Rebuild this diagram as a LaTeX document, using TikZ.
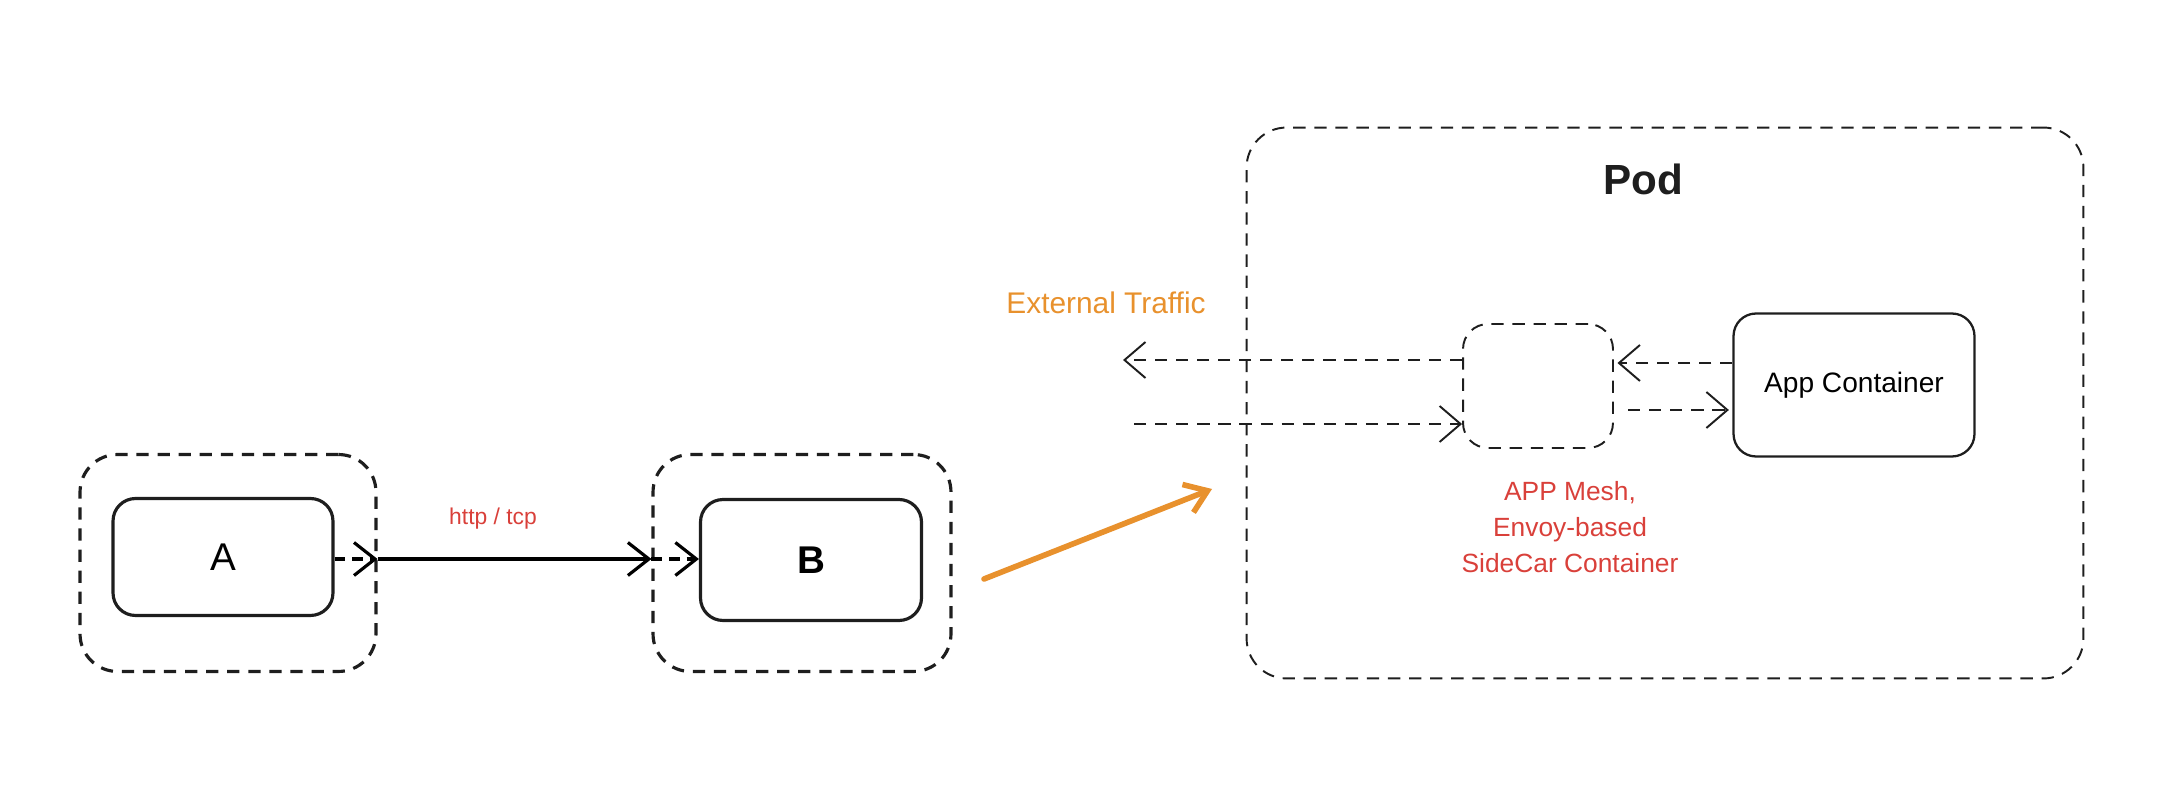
\documentclass[tikz,border=0pt]{standalone}
\usepackage{fontspec}
\setmainfont{Liberation Sans}
\usetikzlibrary{arrows.meta,calc}
\definecolor{exorange}{RGB}{232,145,45}
\definecolor{exred}{RGB}{217,64,58}
\definecolor{exink}{RGB}{30,30,30}
\tikzset{
  solidbox/.style={draw=exink,line width=1.8pt,rounded corners=0.45cm,inner sep=0pt},
  groupbox/.style={draw=exink,line width=1.8pt,dash pattern=on 7pt off 5pt,rounded corners=0.75cm,inner sep=0pt},
  podbox/.style={draw=exink,line width=1.1pt,dash pattern=on 7pt off 5pt,rounded corners=0.8cm,inner sep=0pt},
  sidebox/.style={draw=exink,line width=1.1pt,dash pattern=on 7pt off 5pt,rounded corners=0.5cm,inner sep=0pt},
  barb/.style={-{Straight Barb[length=0.42cm,width=0.72cm,line width=1.1pt]}},
  bigbarb/.style={-{Straight Barb[length=0.42cm,width=0.66cm,line width=1.8pt]}},
  thinflow/.style={draw=exink,line width=1.1pt,dash pattern=on 7pt off 5pt,barb},
  lbl/.style={inner sep=0pt,font=\fontsize{16}{19}\selectfont,text=exink},
}
\begin{document}
\begin{tikzpicture}[x=0.02cm,y=-0.02cm]
\useasboundingbox (0,0) rectangle (2160,786);
% left group
\node[groupbox,minimum width=5.92cm,minimum height=4.34cm] (Aout) at (228,563) {};
\node[solidbox,minimum width=4.4cm,minimum height=2.34cm,font=\fontsize{22}{26}\selectfont] (Ain) at (223,557) {A};
\node[groupbox,minimum width=5.96cm,minimum height=4.34cm] (Bout) at (802,563) {};
\node[solidbox,minimum width=4.42cm,minimum height=2.42cm,font=\fontsize{22}{26}\selectfont\bfseries] (Bin) at (811,560) {B};
\coordinate (lineY) at (0,559);
\draw[line width=1.8pt,dash pattern=on 6pt off 4pt,bigbarb] (Ain.east |- lineY) -- (Aout.east |- lineY);
\draw[line width=1.8pt,bigbarb] (Aout.east |- lineY) -- (Bout.west |- lineY);
\draw[line width=1.8pt,dash pattern=on 6pt off 4pt,bigbarb] (Bout.west |- lineY) -- (Bin.west |- lineY);
\node[lbl,text=exred,font=\fontsize{13}{16}\selectfont] (proto) at (493,519) {http / tcp};
% orange arrow
\coordinate (o1) at (984,579);
\coordinate (o2) at (1212,489);
\draw[exorange,line width=3.2pt,-{Straight Barb[length=0.42cm,width=0.6cm,line width=3.2pt]},line cap=round] (o1) -- (o2);
\node[lbl,text=exorange,font=\fontsize{17}{20}\selectfont] (ext) at (1106,303) {External Traffic};
% pod
\node[podbox,minimum width=16.74cm,minimum height=11.02cm] (pod) at (1665,403) {};
\node[lbl,font=\fontsize{24}{28}\selectfont\bfseries] (podlbl) at (1643,179) {Pod};
\node[sidebox,minimum width=3.0cm,minimum height=2.48cm] (sc) at (1538,386) {};
\node[solidbox,line width=1.3pt,minimum width=4.82cm,minimum height=2.86cm,font=\fontsize{16}{19}\selectfont] (app) at (1854,385) {App Container};
\node[lbl,text=exred,align=center,font=\fontsize{15}{20.5}\selectfont] (mesh) at (1570,527) {APP Mesh,\\Envoy-based\\SideCar Container};
% flows
\coordinate (extout) at (1123,360);
\coordinate (extin) at (1134,424);
\draw[thinflow] (sc.west |- extout) -- (extout);
\draw[thinflow] (extin) -- (extin -| sc.west);
\coordinate (a1) at (0,363);
\coordinate (a2) at (0,410);
\draw[thinflow] (app.west |- a1) -- ([xshift=2pt]sc.east |- a1);
\draw[thinflow,shorten <=8pt] (sc.east |- a2) -- ([xshift=-2pt]app.west |- a2);
\end{tikzpicture}
\end{document}
